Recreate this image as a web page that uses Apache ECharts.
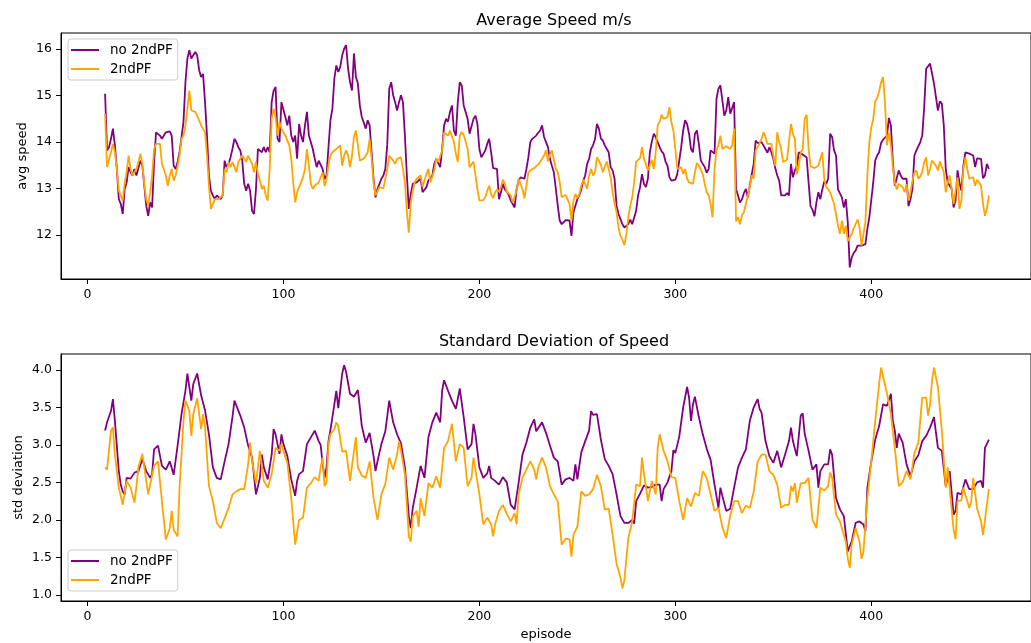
<!DOCTYPE html>
<html>
<head>
<meta charset="utf-8">
<script src="https://cdn.jsdelivr.net/npm/echarts@6/dist/echarts.min.js"></script>
<style>
  html, body { margin: 0; padding: 0; background: #fff; }
  #chart { width: 1031px; height: 643px; }
</style>
</head>
<body>
<div id="chart"></div>
<script>
// episodes of the upper panel start here, one value per episode
var firstEpisode = 9;

// avg speed, no 2ndPF (purple)
var speedNo2ndPF = [
  15.04, 13.82, 13.89, 14.07, 14.29, 13.93, 13.42, 12.77, 12.67, 12.45, 12.99, 13.13, 13.46, 13.35, 13.28, 13.42, 13.28, 13.31, 13.60, 13.49,
  13.06, 12.63, 12.41, 12.70, 12.59, 13.57, 14.21, 14.25, 14.14, 14.07, 14.11, 14.21, 14.18, 14.23, 14.14, 13.49, 13.42, 13.57, 13.78, 14.11,
  14.43, 15.29, 15.80, 15.98, 15.80, 15.76, 15.94, 15.87, 15.55, 15.40, 15.47, 14.86, 14.14, 13.28, 12.95, 12.85, 12.77, 12.85, 12.81, 12.77,
  12.85, 13.60, 13.46, 13.53, 13.67, 13.85, 14.07, 14.00, 13.89, 13.82, 13.60, 13.10, 12.95, 13.10, 12.95, 12.52, 12.45, 12.99, 13.85, 13.85,
  13.78, 13.89, 13.78, 13.89, 13.78, 14.86, 15.11, 15.19, 14.07, 14.00, 14.86, 14.83, 14.54, 14.36, 14.57, 14.14, 14.00, 14.14, 13.64, 14.39,
  14.14, 14.00, 14.36, 14.65, 14.14, 14.18, 13.85, 13.64, 13.46, 13.60, 13.64, 13.42, 13.20, 13.28, 13.89,
  14.47, 14.72, 15.37, 15.65, 15.51, 15.62, 15.87, 16.01, 16.09, 15.58, 15.29, 15.11, 15.91, 15.40, 15.26, 14.79, 14.54, 14.42, 14.29, 14.47,
  14.36, 13.78, 13.21, 12.81, 12.99, 13.10, 13.21, 13.28, 13.42, 13.95, 15.15, 15.29, 15.01, 14.86, 14.68, 14.86, 15.01, 14.86, 14.14, 13.28,
  12.56, 12.88, 13.10, 13.13, 13.13, 13.13, 13.21, 12.92, 12.88, 13.03, 13.17, 13.13, 13.28, 13.53, 13.64, 13.60, 13.46, 13.85, 14.36, 14.50,
  14.44, 14.65, 14.79, 14.25, 14.14, 14.86, 15.29, 15.22, 14.79, 14.75, 14.50, 14.18, 14.18, 14.50, 14.57, 14.39, 13.85, 13.67, 13.70, 13.82,
  13.96, 14.07, 13.78, 13.44, 13.42, 13.42, 12.77, 12.92, 13.10, 12.98, 12.93, 12.86, 12.74, 12.70, 12.59, 12.99, 13.17, 13.24, 13.21, 13.21,
  13.42, 13.67, 14.00, 14.07, 14.07, 14.14, 14.20, 14.25, 14.36, 14.11, 14.00, 13.89, 13.64, 13.49, 13.35, 13.00,
  12.63, 12.31, 12.23, 12.27, 12.32, 12.36, 12.31, 11.98, 12.49, 12.63, 12.77, 12.85, 12.98, 13.17, 13.28, 13.53, 13.64, 13.85, 13.93, 14.06,
  14.39, 14.29, 14.08, 14.03, 13.93, 13.93, 13.78, 13.46, 13.39, 13.21, 12.63, 12.45, 12.34, 12.23, 12.16, 12.18, 12.23, 12.33, 12.23, 12.27,
  12.52, 12.85, 13.03, 13.31, 13.10, 13.03, 13.21, 13.78, 14.01, 14.18, 14.11, 14.00, 13.89, 13.80, 13.75, 13.58, 13.49, 13.24, 13.17, 13.21,
  13.19, 13.31, 13.60, 13.89, 14.25, 14.47, 14.39, 14.18, 13.85, 13.78, 14.18, 14.25, 13.96, 13.60, 13.64, 13.46, 13.34, 13.42, 13.82, 13.85,
  13.75, 14.93, 15.15, 15.22, 14.90, 14.57, 14.68, 14.97, 14.61, 14.61, 14.86, 12.99, 12.85, 12.70, 12.77, 12.90, 12.99, 12.81, 13.06, 13.31,
  13.53, 14.03, 13.98, 13.96, 14.00, 13.98, 13.85, 13.77, 13.89, 13.78, 13.64, 13.44, 13.28, 13.17, 12.85, 12.81, 12.85,
  12.90, 12.85, 13.53, 13.24, 13.39, 13.49, 13.78, 13.80, 13.73, 13.71, 13.67, 13.13, 12.62, 12.54, 12.40, 12.70, 12.92, 12.77, 12.98, 13.15,
  13.10, 13.21, 14.18, 14.11, 13.82, 13.71, 12.98, 12.94, 12.81, 12.59, 12.77, 12.27, 11.30, 11.51, 11.61, 11.66, 11.77, 11.79, 11.77, 11.77,
  11.80, 12.13, 12.38, 12.41, 13.13, 13.60, 13.71, 13.78, 13.98, 14.05, 14.07, 14.14, 14.52, 14.36, 13.57, 13.06, 13.10, 13.39, 13.28, 13.21,
  13.24, 13.21, 12.62, 12.77, 12.99, 13.71, 13.82, 13.82, 14.00, 14.14, 14.75, 15.58, 15.55, 15.69, 15.73, 15.26, 14.97, 14.68, 14.88, 14.83,
  14.36, 13.42, 13.13, 13.13, 12.99, 12.59, 12.74, 13.39, 13.13, 12.95, 13.49, 13.78, 13.82, 13.75, 13.78, 13.71, 13.46, 13.65, 13.67, 13.64,
  13.22, 13.28, 13.53, 13.42
];

// avg speed, 2ndPF (orange)
var speed2ndPF = [
  14.61, 13.46, 13.49, 13.78, 13.96, 13.78, 13.42, 12.95, 12.85, 12.74, 13.13, 13.35, 13.71, 13.42, 13.28, 13.35, 13.42, 13.57, 13.75, 13.53,
  13.10, 12.77, 12.63, 12.92, 13.28, 13.85, 13.96, 14.00, 13.96, 13.53, 13.42, 13.28, 13.06, 13.28, 13.42, 13.17, 13.28, 13.49, 13.71, 14.07,
  14.14, 14.36, 14.72, 15.11, 14.68, 14.65, 14.65, 14.61, 14.47, 14.36, 14.39, 14.21, 13.71, 13.06, 12.56, 12.52, 12.77, 12.81, 12.77, 12.81,
  12.85, 13.42, 13.35, 13.57, 13.46, 13.57, 13.46, 13.35, 13.57, 13.57, 13.71, 13.71, 13.57, 13.71, 13.75, 13.53, 13.35, 13.57, 13.31, 13.17,
  12.99, 13.06, 12.85, 12.74, 13.42, 14.50, 14.72, 14.54, 14.14, 14.43, 14.29, 14.21, 14.14, 14.18, 13.93, 13.64, 13.13, 12.70, 12.92, 13.03,
  13.13, 13.24, 13.42, 13.85, 13.49, 13.10, 12.99, 13.06, 13.10, 13.13, 13.13, 13.35, 13.05, 13.20, 13.50,
  13.71, 13.78, 13.82, 13.85, 13.82, 13.93, 13.49, 13.71, 13.82, 13.71, 13.46, 13.71, 14.11, 14.25, 13.93, 13.60, 13.64, 13.64, 13.67, 13.78,
  14.07, 13.64, 13.13, 12.85, 12.85, 13.03, 13.03, 13.00, 13.03, 13.42, 13.71, 13.65, 13.60, 13.53, 13.64, 13.60, 13.67, 13.42, 13.13, 12.49,
  12.05, 12.70, 12.95, 13.13, 13.21, 13.21, 13.28, 13.03, 13.03, 13.31, 13.42, 13.13, 13.13, 13.39, 13.64, 13.57, 13.60, 13.82, 14.21, 14.21,
  14.14, 14.25, 14.21, 14.00, 13.75, 13.57, 14.14, 14.22, 14.15, 14.01, 13.85, 13.46, 13.49, 13.58, 13.57, 12.99, 12.74, 12.74, 12.75, 12.81,
  12.95, 13.06, 12.88, 12.79, 12.92, 12.98, 12.93, 13.03, 13.19, 13.10, 12.93, 12.95, 12.85, 12.70, 12.70, 12.95, 13.21, 13.17, 12.99, 12.79,
  13.06, 13.34, 13.39, 13.42, 13.44, 13.48, 13.52, 13.57, 13.64, 13.71, 13.82, 13.58, 13.73, 13.82, 13.62, 13.42,
  13.35, 13.13, 12.81, 12.77, 12.86, 12.85, 12.67, 12.31, 12.74, 12.88, 12.79, 12.88, 13.06, 13.19, 13.10, 12.99, 13.28, 13.42, 13.28, 13.35,
  13.67, 13.60, 13.51, 13.35, 13.47, 13.58, 13.57, 13.24, 12.92, 12.67, 12.49, 12.16, 11.98, 11.90, 11.78, 12.02, 12.38, 12.63, 12.81, 13.13,
  13.58, 13.60, 13.65, 13.89, 13.64, 13.62, 13.39, 13.39, 13.62, 13.42, 13.78, 14.36, 14.44, 14.59, 14.50, 14.48, 14.54, 14.75, 14.42, 14.25,
  13.85, 13.42, 13.39, 13.46, 13.31, 13.42, 13.21, 13.13, 13.13, 13.10, 13.35, 13.55, 13.49, 13.41, 13.31, 13.10, 12.92, 12.85, 12.67, 12.38,
  13.42, 13.82, 13.93, 14.14, 13.85, 13.84, 13.91, 13.89, 13.85, 13.93, 14.29, 12.29, 12.38, 12.23, 12.43, 12.49, 12.67, 12.85, 13.03, 13.28,
  13.21, 13.82, 13.89, 13.93, 14.07, 14.21, 14.11, 13.96, 13.94, 13.96, 13.71, 13.49, 14.21, 14.00, 13.85, 13.57, 13.57,
  13.62, 13.58, 14.39, 14.18, 14.07, 13.31, 13.49, 13.78, 13.85, 14.50, 14.59, 13.85, 13.48, 13.44, 13.44, 13.45, 13.49, 13.64, 13.78, 13.21,
  13.03, 12.98, 12.92, 12.95, 12.67, 12.45, 12.20, 12.02, 12.31, 12.02, 12.20, 11.87, 11.91, 12.02, 12.14, 12.23, 12.33, 12.16, 11.77, 11.80,
  12.27, 13.28, 14.00, 14.32, 14.50, 14.88, 14.95, 15.09, 15.29, 15.40, 14.86, 13.93, 14.20, 13.93, 13.46, 13.13, 12.98, 13.10, 13.10, 13.03,
  12.92, 13.10, 12.74, 12.92, 13.17, 13.34, 13.39, 13.21, 13.26, 13.35, 13.57, 13.67, 13.28, 13.42, 13.60, 13.64, 13.49, 13.39, 13.58, 13.60,
  13.35, 12.92, 13.13, 13.28, 12.99, 12.67, 12.70, 13.24, 12.56, 12.74, 13.42, 13.67, 13.42, 13.21, 13.22, 13.24, 13.06, 13.19, 13.13, 13.06,
  12.67, 12.41, 12.56, 12.85
];

// std deviation, no 2ndPF (purple): [episode, value]
var stdNo2ndPF = [
  [9,3.19],[10,3.30],[12,3.45],[13,3.61],[14,3.32],[16,2.65],[17,2.47],[18,2.38],[19,2.34],[20,2.56],[22,2.55],[24,2.63],[26,2.65],[28,2.81],
  [30,2.65],[32,2.56],[33,2.61],[34,2.94],[36,2.99],[38,2.72],[40,2.67],[42,2.78],[44,2.60],[46,2.99],[48,3.41],[50,3.72],[51,3.95],[52,3.77],
  [53,3.59],[54,3.81],[56,3.95],[58,3.66],[60,3.46],[62,3.14],[64,2.70],[66,2.56],[68,2.54],[70,2.78],[72,3.01],[74,3.37],[75,3.59],[76,3.59],
  [78,3.39],[80,3.23],[82,2.99],[84,2.83],[86,2.34],[88,2.56],[89,2.87],[90,2.70],[92,2.54],[94,2.87],[95,3.21],[96,3.14],[98,2.88],[99,3.14],
  [100,3.01],[102,2.85],[104,2.54],[106,2.32],[107,2.52],[108,2.61],[110,2.65],[112,3.01],[114,3.10],[116,3.19],[118,3.05],[119,3.00],[120,2.75],
  [121,2.56],[122,2.70],[123,3.05],[124,3.20],[126,3.54],[127,3.72],[128,3.49],[130,3.95],[131,4.06],[132,3.97],[134,3.68],[136,3.64],[138,3.73],
  [139,3.50],[140,3.25],[142,3.03],[144,3.16],[146,2.85],[147,2.65],[148,2.78],[150,3.01],[152,3.18],[154,3.59],[156,3.30],[158,3.14],[160,3.02],
  [162,2.70],[164,2.05],[165,1.89],[166,2.16],[168,2.43],[169,2.43],[170,2.72],[172,2.56],[174,3.10],[176,3.30],[178,3.43],[180,3.30],[181,3.72],
  [182,3.86],[184,3.72],[186,3.59],[188,3.48],[190,3.75],[192,3.37],[194,2.94],[196,3.01],[197,3.28],[198,3.14],[200,2.70],[202,2.56],[204,2.62],
  [205,2.72],[206,2.56],[208,2.52],[210,2.47],[212,2.57],[214,2.50],[216,2.20],[218,2.14],[220,2.49],[222,2.87],[224,3.03],[226,3.23],[228,3.34],
  [229,3.18],[230,3.19],[232,3.30],[234,3.16],[236,2.99],[238,2.83],[240,2.78],[242,2.47],[244,2.54],[246,2.56],[248,2.52],[249,2.74],[250,2.54],
  [252,2.90],[254,3.05],[256,3.19],[257,3.45],[258,3.40],[260,3.41],[262,3.07],[264,2.81],[266,2.72],[268,2.61],[270,2.34],[272,2.05],[274,1.96],
  [276,1.96],[278,2.00],[279,1.95],[280,2.25],[282,2.35],[284,2.46],[286,2.43],[288,2.44],[290,2.47],[292,2.47],[293,2.25],[294,2.41],[296,2.50],
  [298,2.65],[299,2.93],[300,2.89],[302,3.11],[304,3.50],[306,3.77],[307,3.63],[308,3.32],[309,3.54],[310,3.64],[312,3.37],[314,3.14],[316,2.95],
  [318,2.80],[320,2.47],[322,2.16],[323,2.43],[324,2.32],[326,2.12],[328,2.15],[330,2.43],[332,2.70],[333,2.68],[334,2.83],[336,2.94],[338,3.32],
  [340,3.50],[342,3.61],[343,3.48],[344,3.43],[346,3.05],[348,2.85],[350,2.76],[352,2.92],[354,2.70],[356,2.87],[358,3.05],[359,3.23],[360,3.05],
  [362,2.85],[364,3.39],[365,3.42],[366,3.15],[368,2.92],[370,2.67],[372,2.74],[373,2.43],[374,2.65],[376,2.74],[378,2.74],[379,2.94],[380,2.87],
  [382,2.29],[384,2.14],[386,2.05],[388,1.58],[389,1.65],[390,1.71],[392,1.96],[394,1.98],[396,1.94],[397,1.85],[398,2.43],[400,2.78],[402,3.07],
  [404,3.25],[406,3.54],[408,3.52],[410,3.68],[411,3.32],[412,3.19],[413,2.96],[414,3.15],[416,3.03],[418,2.74],[420,2.58],[422,2.78],[424,2.86],
  [426,3.05],[428,3.12],[430,3.23],[432,3.37],[434,2.96],[436,2.92],[438,2.45],[440,2.65],[442,2.07],[443,2.12],[444,2.36],[446,2.34],[448,2.54],
  [450,2.41],[452,2.41],[454,2.50],[456,2.52],[457,2.43],[458,2.96],[460,3.07]
];

// std deviation, 2ndPF (orange): [episode, value]
var std2ndPF = [
  [9,2.70],[10,2.67],[12,3.19],[13,3.23],[14,2.87],[16,2.43],[18,2.20],[20,2.52],[22,2.43],[24,2.23],[25,2.45],[26,2.70],[28,2.88],[30,2.52],
  [31,2.34],[32,2.47],[34,2.72],[36,2.78],[38,2.25],[40,1.74],[42,1.89],[43,2.12],[44,1.87],[46,1.78],[47,2.43],[48,2.87],[49,3.32],[50,3.59],
  [52,3.45],[53,3.12],[54,3.41],[56,3.62],[58,3.21],[59,3.41],[60,3.23],[62,2.45],[64,2.25],[66,1.96],[68,1.89],[70,2.02],[72,2.16],[74,2.34],
  [76,2.38],[78,2.41],[80,2.41],[82,2.74],[83,3.03],[84,2.79],[86,2.49],[88,2.92],[90,2.52],[92,2.43],[94,2.61],[96,2.96],[98,2.92],[99,3.01],
  [100,2.92],[102,2.76],[104,2.29],[106,1.67],[107,1.69],[108,2.00],[110,2.03],[112,2.43],[114,2.49],[116,2.57],[118,2.52],[119,2.70],[120,2.83],
  [121,2.45],[122,2.50],[123,3.01],[124,3.14],[126,3.21],[127,3.30],[128,3.25],[130,2.91],[132,2.92],[134,2.52],[136,2.92],[137,3.10],[138,2.70],
  [140,2.59],[142,2.56],[144,2.78],[146,2.29],[148,2.00],[150,2.34],[152,2.48],[154,2.83],[156,2.67],[158,2.87],[159,3.05],[160,2.92],[162,2.61],
  [164,1.78],[165,1.71],[166,2.05],[168,2.12],[169,1.91],[170,2.29],[172,2.05],[174,2.49],[176,2.43],[178,2.58],[180,2.43],[182,2.96],[184,3.05],
  [186,3.28],[188,2.78],[190,3.01],[192,2.96],[194,2.45],[196,2.56],[197,2.83],[198,2.83],[200,2.34],[202,1.94],[204,2.03],[206,1.94],[207,1.78],
  [208,1.94],[210,2.12],[212,2.20],[214,2.08],[216,1.98],[218,2.09],[219,1.94],[220,2.34],[222,2.56],[224,2.67],[226,2.78],[228,2.67],[229,2.54],
  [230,2.69],[232,2.83],[234,2.70],[236,2.45],[238,2.34],[240,2.25],[242,1.67],[244,1.75],[246,1.74],[247,1.51],[248,1.80],[250,1.91],[252,2.38],
  [254,2.32],[256,2.34],[258,2.41],[260,2.60],[262,2.45],[264,2.14],[266,2.15],[268,1.80],[270,1.42],[272,1.23],[273,1.09],[274,1.20],[276,1.76],
  [278,1.98],[280,2.47],[282,2.45],[283,2.83],[284,2.61],[286,2.25],[288,2.52],[290,2.34],[291,2.96],[292,3.14],[294,2.92],[296,2.78],[298,2.57],
  [300,2.56],[302,2.25],[304,2.00],[306,2.29],[308,2.18],[310,2.36],[312,2.32],[314,2.65],[316,2.56],[318,2.34],[320,2.12],[322,2.16],[324,1.90],
  [326,1.76],[328,2.06],[330,2.25],[332,2.25],[334,2.09],[336,2.19],[338,2.16],[340,2.38],[342,2.78],[344,2.87],[346,2.87],[348,2.65],[350,2.60],
  [352,2.47],[354,2.16],[356,2.20],[358,2.20],[359,2.45],[360,2.38],[361,2.49],[362,2.23],[364,2.49],[366,2.49],[368,2.56],[370,2.00],[372,1.89],
  [374,2.43],[376,2.39],[378,2.45],[379,2.63],[380,2.56],[382,2.07],[384,1.98],[386,1.80],[387,1.71],[388,1.49],[389,1.36],[390,1.67],[392,1.89],
  [394,1.71],[395,1.48],[396,1.58],[397,1.94],[398,2.29],[400,2.78],[402,3.32],[404,3.81],[405,4.03],[406,4.01],[408,3.68],[410,3.41],[412,2.96],
  [414,2.45],[416,2.50],[418,2.65],[420,2.54],[422,2.89],[424,3.03],[426,3.63],[428,3.63],[429,3.39],[430,3.54],[431,3.86],[432,4.03],[434,3.77],
  [436,3.19],[438,2.43],[439,2.70],[440,2.72],[442,1.87],[443,1.74],[444,2.25],[446,2.26],[447,2.43],[448,2.43],[450,2.16],[451,2.25],[452,2.56],
  [454,2.15],[456,1.98],[457,1.80],[458,2.00],[460,2.41]
];

var xTicks = [0, 100, 200, 300, 400];
var speedTicks = [12, 13, 14, 15, 16];
var stdTicks = [1.0, 1.5, 2.0, 2.5, 3.0, 3.5, 4.0];

var PURPLE = '#800080';
var ORANGE = '#ffa500';
var FONT = 'DejaVu Sans';

function withEpisodes(values) {
  return values.map(function (v, i) { return [firstEpisode + i, v]; });
}

function xAxisFor(gridIndex, name) {
  return {
    type: 'value', gridIndex: gridIndex,
    min: -13.5, max: 481.5,
    name: name, nameLocation: 'middle', nameGap: 27,
    nameTextStyle: { color: '#000', fontFamily: FONT, fontSize: 13 },
    axisLine: { show: true, onZero: false, lineStyle: { color: '#000', width: 1 } },
    axisTick: { show: true, length: 5, customValues: xTicks, lineStyle: { color: '#000' } },
    axisLabel: { customValues: xTicks, color: '#000', fontFamily: FONT, fontSize: 12.5, margin: 9 },
    splitLine: { show: false }
  };
}

function yAxisFor(gridIndex, min, max, ticks, name, gap, fmt) {
  return {
    type: 'value', gridIndex: gridIndex,
    min: min, max: max,
    name: name, nameLocation: 'middle', nameRotate: 90, nameGap: gap,
    nameMoveOverlap: false,
    nameTextStyle: { color: '#000', fontFamily: FONT, fontSize: 13 },
    axisLine: { show: true, onZero: false, lineStyle: { color: '#000', width: 1 } },
    axisTick: { show: true, length: 5, customValues: ticks, lineStyle: { color: '#000' } },
    axisLabel: { customValues: ticks, color: '#000', fontFamily: FONT, fontSize: 12.5, margin: 9, formatter: fmt },
    splitLine: { show: false }
  };
}

function legendAt(top) {
  return {
    left: 68, top: top, orient: 'vertical',
    data: ['no 2ndPF', '2ndPF'],
    icon: 'rect', itemWidth: 28, itemHeight: 2, itemGap: 5,
    backgroundColor: '#fff', borderColor: '#ccc', borderWidth: 1, borderRadius: 3,
    padding: [4, 5, 4, 3],
    textStyle: { color: '#000', fontFamily: FONT, fontSize: 13.5, padding: [0, 0, 0, 6] }
  };
}

function lineSeries(name, color, x, y, data) {
  return {
    name: name, type: 'line', xAxisIndex: x, yAxisIndex: y,
    data: data, showSymbol: false, symbol: 'none',
    lineStyle: { color: color, width: 1.8 },
    itemStyle: { color: color }
  };
}

var chart = echarts.init(document.getElementById('chart'), null, { renderer: 'canvas' });
chart.setOption({
  animation: false,
  backgroundColor: '#fff',
  title: [
    { text: 'Average Speed m/s', left: 549, top: 8, textAlign: 'center',
      textStyle: { color: '#000', fontFamily: FONT, fontSize: 16, fontWeight: 'normal' } },
    { text: 'Standard Deviation of Speed', left: 549, top: 329, textAlign: 'center',
      textStyle: { color: '#000', fontFamily: FONT, fontSize: 16, fontWeight: 'normal' } }
  ],
  legend: [legendAt(39), legendAt(550)],
  grid: [
    { left: 61, top: 33, width: 976, height: 246, show: true, borderColor: '#000', borderWidth: 1, backgroundColor: '#fff' },
    { left: 61, top: 354, width: 976, height: 247, show: true, borderColor: '#000', borderWidth: 1, backgroundColor: '#fff' }
  ],
  xAxis: [xAxisFor(0, ''), xAxisFor(1, 'episode')],
  yAxis: [
    yAxisFor(0, 11.05, 16.35, speedTicks, 'avg speed', 32, function (v) { return String(v); }),
    yAxisFor(1, 0.92, 4.21, stdTicks, 'std deviation', 36, function (v) { return v.toFixed(1); })
  ],
  series: [
    lineSeries('no 2ndPF', PURPLE, 0, 0, withEpisodes(speedNo2ndPF)),
    lineSeries('2ndPF', ORANGE, 0, 0, withEpisodes(speed2ndPF)),
    lineSeries('no 2ndPF', PURPLE, 1, 1, stdNo2ndPF),
    lineSeries('2ndPF', ORANGE, 1, 1, std2ndPF)
  ]
});
window.addEventListener('resize', function () { chart.resize(); });
</script>
</body>
</html>
